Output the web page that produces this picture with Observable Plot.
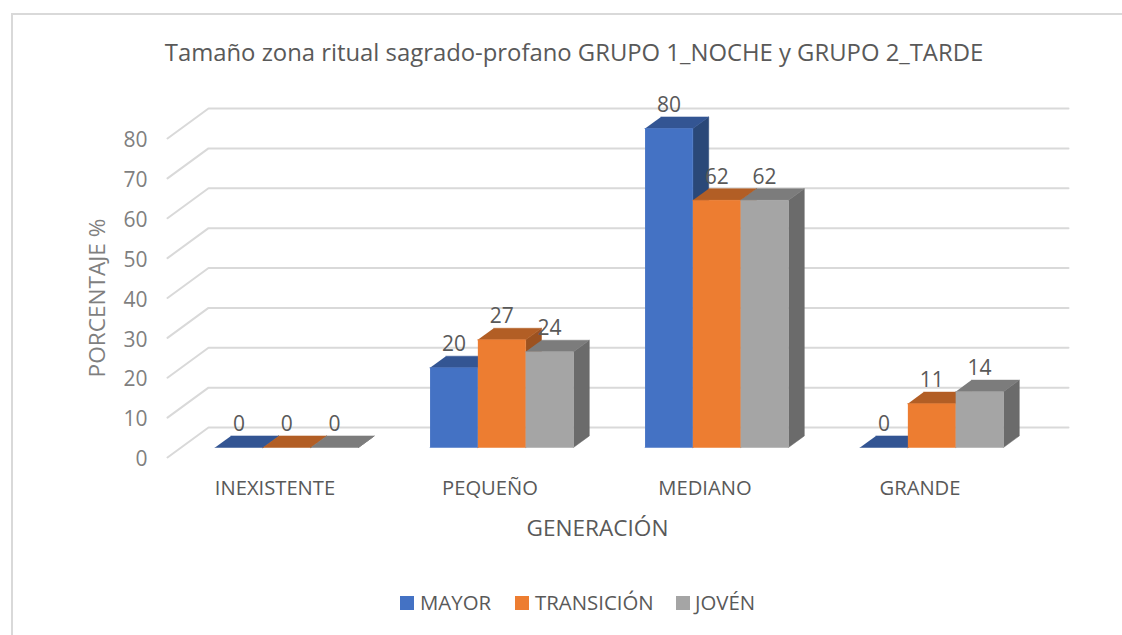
<!DOCTYPE html>
<html><head><meta charset="utf-8">
<script src="https://cdn.jsdelivr.net/npm/d3@7"></script>
<script src="https://cdn.jsdelivr.net/npm/@observablehq/plot@0.6"></script>
<style>
html,body{margin:0;padding:0;background:#fff}
#chart{position:relative;width:1122px;height:635px;overflow:hidden;font-family:"Open Sans",sans-serif;color:#595959}
#frame{position:absolute;left:11px;top:13px;width:1200px;height:700px;border:2px solid #d9d9d9;box-sizing:border-box}
#title{position:absolute;left:0;top:36px;width:1148px;text-align:center;font-size:23.85px;line-height:32px;white-space:nowrap}
#legend span{position:absolute;top:588px;font-size:20.4px;line-height:28px;white-space:nowrap}
#legend i{position:absolute;top:596px;width:14px;height:14px}
svg{position:absolute;left:0;top:0}
</style></head><body>
<div id="chart"><div id="frame"></div><div id="title">Tamaño zona ritual sagrado-profano GRUPO 1_NOCHE y GRUPO 2_TARDE</div><div id="legend"></div></div>
<script>
const categories = ["INEXISTENTE","PEQUEÑO","MEDIANO","GRANDE"];
const seriesNames = ["MAYOR","TRANSICIÓN","JOVÉN"];
const mayor = [0,20,80,0];
const transicion = [0,27,62,11];
const joven = [0,24,62,14];
const frontColors = ["#4472C4","#ED7D31","#A5A5A5"];
const topColors = ["#335593","#B25E25","#7C7C7C"];
const sideColors = ["#2A4878","#9C5220","#6B6B6B"];
const yTicks = [0,10,20,30,40,50,60,70,80];
const legendSquareX = [400,515,676];
const legendTextX = [420,535,695];

const seriesValues = [mayor,transicion,joven];
// oblique projection of the floor depth, in data units
const DX = 0.1907, DY = 7.52;
const barW = 0.2223, groupOff = 0.1577;
const dBack = 0.72, dFront = 0.333;
const p = (c,v,d)=>({px:c+d*DX, py:v+d*DY});

const polys = [];
let id = 0;
categories.forEach((cat,ci)=>{
  seriesNames.forEach((s,si)=>{
    const v = seriesValues[si][ci];
    const x0 = ci+groupOff+si*barW, x1 = x0+barW;
    const add=(pts,fill)=>{id++;pts.forEach(q=>polys.push({...q,id,fill}));};
    add([p(x1,0,dFront),p(x1,0,dBack),p(x1,v,dBack),p(x1,v,dFront)],sideColors[si]);
    add([p(x0,v,dFront),p(x1,v,dFront),p(x1,v,dBack),p(x0,v,dBack)],topColors[si]);
    if(v>0) add([p(x0,0,dFront),p(x1,0,dFront),p(x1,v,dFront),p(x0,v,dFront)],frontColors[si]);
  });
});
const grid = yTicks.flatMap(t=>[{...p(0,t,0),t},{...p(0,t,1),t},{...p(categories.length,t,1),t}]);
const labels = categories.flatMap((cat,ci)=>seriesNames.map((s,si)=>{
  const v=seriesValues[si][ci];
  const x0=ci+groupOff+si*barW;
  return {px:x0+barW/2+dFront*DX, py:v+dBack*DY, v};
}));

const svg = Plot.plot({
  width:1122,height:635,
  marginLeft:167,marginRight:95,marginTop:138,marginBottom:178,
  style:{background:"transparent",fontFamily:'"Open Sans",sans-serif',color:"#595959"},
  x:{domain:[0,categories.length],label:null},
  y:{domain:[0,80],label:null},
  marks:[
    Plot.line(grid,{x:"px",y:"py",z:"t",stroke:"#d9d9d9",strokeWidth:2}),
    Plot.line(polys,{x:"px",y:"py",z:"id",fill:"fill",stroke:"fill",strokeWidth:0.5}),
    Plot.text(labels,{x:"px",y:"py",text:d=>String(d.v),dy:-11.5,fontSize:21,fill:"#595959"}),
    Plot.axisY({ticks:yTicks,tickSize:0,tickPadding:20,fontSize:21,dy:2,fill:"#7f7f7f",label:null}),
    Plot.axisY({ticks:[],fontSize:22.6,fill:"#7f7f7f",label:"PORCENTAJE %",labelAnchor:"center",labelArrow:"none",labelOffset:79}),
    Plot.axisX({ticks:categories.map((c,i)=>i+0.5),tickFormat:(d)=>categories[Math.floor(d)],tickSize:0,tickPadding:23,fontSize:20.2,fill:"#595959",label:null}),
    Plot.axisX({ticks:[],fontSize:22.6,fill:"#595959",label:"GENERACIÓN",labelAnchor:"center",labelArrow:"none",labelOffset:78})
  ]
});
document.getElementById("chart").appendChild(svg);
const lg=document.getElementById("legend");
seriesNames.forEach((n,i)=>{
  const sq=document.createElement("i");sq.style.left=legendSquareX[i]+"px";sq.style.background=frontColors[i];lg.appendChild(sq);
  const t=document.createElement("span");t.style.left=legendTextX[i]+"px";t.textContent=n;lg.appendChild(t);
});
</script></body></html>
